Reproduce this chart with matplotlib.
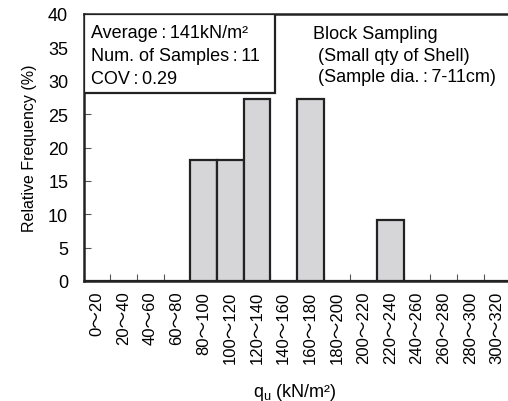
import matplotlib
matplotlib.use("Agg")
import matplotlib.pyplot as plt
from matplotlib.patches import Rectangle
import numpy as np

categories = ["0～20", "20～40", "40～60", "60～80", "80～100", "100～120", "120～140",
              "140～160", "160～180", "180～200", "200～220", "220～240", "240～260",
              "260～280", "280～300", "300～320"]
counts = [0, 0, 0, 0, 2, 2, 3, 0, 3, 0, 0, 1, 0, 0, 0, 0]
n_samples = 11
freq = [c / n_samples * 100 for c in counts]
yticks = [0, 5, 10, 15, 20, 25, 30, 35, 40]

plt.rcParams['font.family'] = ['Liberation Sans', 'Noto Sans CJK JP', 'DejaVu Sans']
plt.rcParams['mathtext.fontset'] = 'custom'
plt.rcParams['mathtext.rm'] = 'Liberation Sans'

fig = plt.figure(figsize=(5.08, 4.02), dpi=100)
W, H = 508, 402
x0, x1, y0, y1 = 83.5, 510.5, 282, 15
ax = fig.add_axes([x0 / W, 1 - y0 / H, (x1 - x0) / W, (y0 - y1) / H])

x = np.arange(len(categories))
ax.bar(x, freq, width=1.0, color='#d6d6d8', edgecolor='#222222', linewidth=1.6, zorder=3)

ax.set_xlim(-0.5, len(categories) - 0.5)
ax.set_ylim(0, 40)
ax.set_yticks(yticks)
ax.set_yticklabels([str(v) for v in yticks], fontsize=13)
ax.set_xticks(x)
ax.set_xticklabels(categories, rotation=90, fontsize=12)
ax.set_xticks(np.arange(len(categories) + 1) - 0.5, minor=True)
ax.tick_params(axis='x', which='major', length=0, pad=7)
ax.tick_params(axis='x', which='minor', direction='in', length=5, width=0.8, color='#555555')
ax.tick_params(axis='y', direction='in', length=5, width=0.8, color='#555555', pad=11)
for s in ax.spines.values():
    s.set_linewidth(1.8)
    s.set_color('#222222')

ax.set_ylabel('Relative Frequency (%)', fontsize=11.5, labelpad=8)
fig.text(295 / W, 1 - 393 / H, r'q$_\mathregular{u}$ (kN/m²)', fontsize=13,
         ha='center', va='center')

# Info box
bx1 = (275 - x0) / (x1 - x0)
by0 = (y0 - 94) / (y0 - y1)
ax.add_patch(Rectangle((0, by0), bx1, 1 - by0, transform=ax.transAxes,
                       facecolor='white', edgecolor='#222222', linewidth=1.6, zorder=4))

def fy(py):
    return (y0 - py) / (y0 - y1)

def fx(px):
    return (px - x0) / (x1 - x0)

sep = "\u2009:\u2009"
box_lines = ["Average" + sep + "141kN/m²", "Num. of Samples" + sep + "11", "COV" + sep + "0.29"]
for i, t in enumerate(box_lines):
    ax.text(fx(91), fy(33 + 23.5 * i), t, transform=ax.transAxes, fontsize=13,
            va='center', ha='left', zorder=5)

note_lines = ["Block Sampling", " (Small qty of Shell)", " (Sample dia." + sep + "7-11cm)"]
for i, t in enumerate(note_lines):
    ax.text(fx(313), fy(35 + 21.5 * i), t, transform=ax.transAxes, fontsize=13,
            va='center', ha='left', zorder=5)

fig.savefig('out.png', dpi=100)
